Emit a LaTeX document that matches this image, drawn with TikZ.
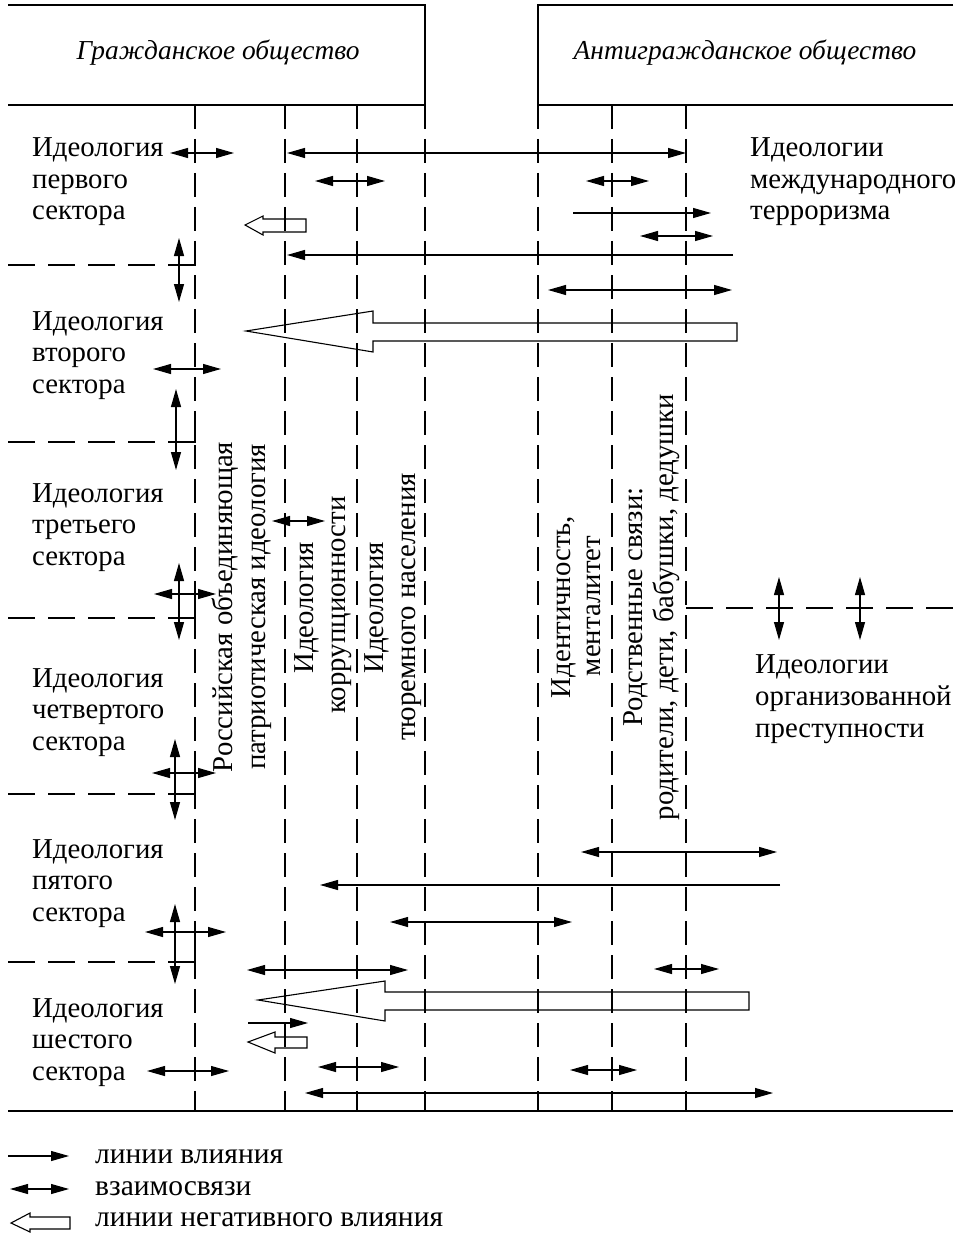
\documentclass[tikz,border=0pt]{standalone}
\usepackage{fontspec}
\setmainfont{Liberation Serif}
\usetikzlibrary{arrows.meta}
\begin{document}
\begin{tikzpicture}[x=1pt,y=-1pt,
  ln/.style={line width=1.1pt},
  dshv/.style={line width=1.1pt, dash pattern=on 24pt off 10pt},
  dshh/.style={line width=1.1pt, dash pattern=on 27pt off 13pt},
  infl/.style={ln, -{Triangle[length=18pt,width=10pt]}},
  mutual/.style={ln, {Triangle[length=18pt,width=10pt]}-{Triangle[length=18pt,width=10pt]}},
  hollow/.style={ln, line join=miter},
  lbl/.style={font=\fontsize{28.8}{31.5}\selectfont, anchor=base west, inner sep=0pt},
  leg/.style={font=\fontsize{29.5}{31.5}\selectfont, anchor=base west, inner sep=0pt},
  vlbl/.style={font=\fontsize{28.8}{31.5}\selectfont, rotate=90, anchor=base, inner sep=0pt},
  hdr/.style={font=\fontsize{27.4}{30}\selectfont\itshape, anchor=base, inner sep=0pt}]
\useasboundingbox (0,0) rectangle (958,1233);

% header boxes
\draw[ln] (8,5) -- (425,5) -- (425,105);
\draw[ln] (8,105) -- (425,105);
\draw[ln] (953,5) -- (538,5) -- (538,105) -- (953,105);
\node[hdr] (civ) at (218,60) {Гражданское общество};
\node[hdr] (anti) at (745,60) {Антигражданское общество};

% vertical dashed columns
\foreach \x in {195,285,357,425,538,612,686}
  \draw[dshv] (\x,105) -- (\x,1111);
\draw[ln] (8,1111) -- (953,1111);

% sector dividers
\foreach \y/\t in {265/245,442/422,618/594,794/773,962/932}{
  \draw[dshh] (8,\y) -- (168,\y);
  \draw[ln] (168,\y) -- (195,\y) -- (195,\t);
}
\draw[dshh] (686,608) -- (953,608);

% sector labels
\foreach \yb/\w [count=\i] in {157/первого,330/второго,502/третьего,687/четвертого,858/пятого,1017/шестого}{
  \node[lbl] (s\i a) at (32,\yb) {Идеология};
  \node[lbl] (s\i b) at (32,\yb+31.5) {\w};
  \node[lbl] (s\i c) at (32,\yb+63) {сектора};
}
\node[lbl] (t1) at (750,157) {Идеологии};
\node[lbl] (t2) at (750,189) {международного};
\node[lbl] (t3) at (750,220) {терроризма};
\node[lbl] (o1) at (755,673) {Идеологии};
\node[lbl] (o2) at (755,705) {организованной};
\node[lbl] (o3) at (755,737) {преступности};

% vertical labels
\node[vlbl] (v1a) at (232,607) {Российская объединяющая};
\node[vlbl] (v1b) at (265,607) {патриотическая идеология};
\node[vlbl] (v2a) at (313,608) {Идеология};
\node[vlbl] (v2b) at (345,605) {коррупционности};
\node[vlbl] (v3a) at (383,608) {Идеология};
\node[vlbl] (v3b) at (415,607) {тюремного населения};
\node[vlbl] (v4a) at (570,607) {Идентичность,};
\node[vlbl] (v4b) at (600,606) {менталитет};
\node[vlbl] (v5a) at (642,607) {Родственные связи:};
\node[vlbl] (v5b) at (673,607) {родители, дети, бабушки, дедушки};

% horizontal arrows
\draw[mutual] (170,153) -- (234,153);
\draw[mutual] (287,153) -- (686,153);
\draw[mutual] (315,181) -- (385,181);
\draw[mutual] (586,181) -- (649,181);
\draw[infl] (573,213) -- (711,213);
\draw[mutual] (640,236) -- (713,236);
\draw[infl] (733,255) -- (287,255);
\draw[mutual] (548,290) -- (732,290);
\draw[mutual] (153,369) -- (221,369);
\draw[mutual] (272,521) -- (325,521);
\draw[mutual] (154,594) -- (216,594);
\draw[mutual] (152,773) -- (216,773);
\draw[mutual] (581,852) -- (777,852);
\draw[infl] (780,885) -- (320,885);
\draw[mutual] (390,922) -- (572,922);
\draw[mutual] (145,932) -- (226,932);
\draw[mutual] (247,970) -- (408,970);
\draw[mutual] (654,969) -- (719,969);
\draw[infl] (248,1023) -- (308,1023);
\draw[mutual] (318,1067) -- (399,1067);
\draw[mutual] (570,1070) -- (637,1070);
\draw[mutual] (147,1071) -- (229,1071);
\draw[mutual] (305,1093) -- (773,1093);

% vertical arrows
\draw[mutual] (179,238) -- (179,302);
\draw[mutual] (176,389) -- (176,470);
\draw[mutual] (179,563) -- (179,640);
\draw[mutual] (175,739) -- (175,820);
\draw[mutual] (175,904) -- (175,984);
\draw[mutual] (779,577) -- (779,640);
\draw[mutual] (860,577) -- (860,640);

% hollow arrows (negative influence)
\draw[hollow] (306,219) -- (263,219) -- (263,216) -- (245,225) -- (263,235) -- (263,232) -- (306,232) -- cycle;
\draw[hollow] (737,323) -- (373,323) -- (373,311) -- (246,331) -- (373,352) -- (373,341) -- (737,341) -- cycle;
\draw[hollow] (749,992) -- (385,992) -- (385,981) -- (258,1000) -- (385,1021) -- (385,1010) -- (749,1010) -- cycle;
\draw[hollow] (307,1037) -- (275,1037) -- (275,1032) -- (248,1042) -- (275,1053) -- (275,1048) -- (307,1048) -- cycle;

% legend
\draw[infl] (8,1156) -- (69,1156);
\draw[mutual] (10,1189) -- (69,1189);
\draw[hollow] (70,1217) -- (30,1217) -- (30,1213) -- (11,1223) -- (30,1232) -- (30,1229) -- (70,1229) -- cycle;
\node[leg] (l1) at (95,1163) {линии влияния};
\node[leg] (l2) at (95,1195) {взаимосвязи};
\node[leg] (l3) at (95,1226) {линии негативного влияния};
\end{tikzpicture}
\end{document}
